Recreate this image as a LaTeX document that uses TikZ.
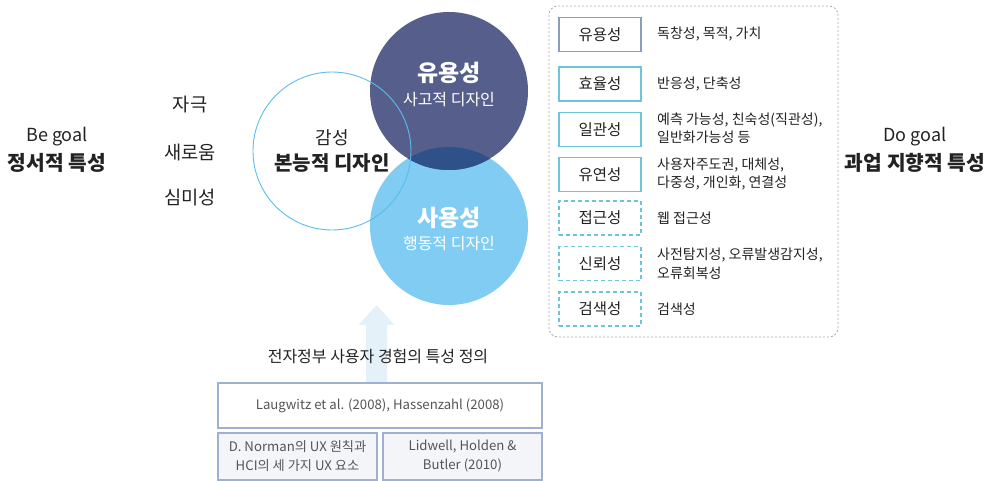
\documentclass[tikz,border=0pt]{standalone}
\usepackage{fontspec}
\setmainfont{Noto Sans CJK KR}
\definecolor{txt}{HTML}{222222}
\definecolor{greytxt}{HTML}{555555}
\definecolor{darkc}{HTML}{565E8B}
\definecolor{lightc}{HTML}{80CCF2}
\definecolor{overc}{HTML}{2E5189}
\definecolor{ringc}{HTML}{5BBDEB}
\definecolor{boxblue}{HTML}{8A9CC2}
\definecolor{boxteal}{HTML}{6EC3DD}
\definecolor{refbox}{HTML}{9FB0D0}
\definecolor{reffill}{HTML}{F3F5F9}
\definecolor{arrowc}{HTML}{E4F1F9}
\definecolor{frame}{HTML}{AAAAAA}
\tikzset{
  fs/.style={font=\fontsize{#1}{20}\selectfont},
  itembox/.style={minimum width=82pt, minimum height=34pt, inner sep=0pt,
    line width=1.3pt, text=txt, font=\fontsize{15.5}{18}\selectfont},
  solidblue/.style={itembox, draw=boxblue},
  solidteal/.style={itembox, draw=boxteal},
  dashteal/.style={itembox, draw=boxteal, dash pattern=on 4pt off 3pt, line width=1.2pt},
  desc/.style={anchor=west, align=left, text=txt, inner sep=0pt,
    font=\fontsize{14}{18.5}\selectfont},
  refnode/.style={draw=refbox, line width=1.4pt, inner sep=0pt, align=center,
    text=greytxt, font=\fontsize{13.2}{19}\selectfont},
  sidetxt/.style={text=txt, font=\fontsize{18.7}{22}\selectfont},
}
\begin{document}
\begin{tikzpicture}[x=1pt,y=-1pt]
\useasboundingbox (0,0) rectangle (992,481);

% circles
\node[circle, fill=lightc, minimum size=158pt, inner sep=0pt] (use) at (449,226) {};
\node[circle, fill=darkc, minimum size=158pt, inner sep=0pt] (useful) at (449,91) {};
\begin{scope}
  \clip (449,91) circle (79);
  \fill[overc] (449,226) circle (79);
\end{scope}
\node[circle, draw=ringc, line width=0.9pt, minimum size=158pt, inner sep=0pt] (emo) at (332,151) {};

\node[text=white, font=\bfseries\fontsize{23}{26}\selectfont] (t1) at (449,73) {유용성};
\node[text=white, fs=16] (t1s) at (449,100) {사고적 디자인};
\node[text=white, font=\bfseries\fontsize{23}{26}\selectfont] (t2) at (449,218) {사용성};
\node[text=white, fs=16] (t2s) at (449,244) {행동적 디자인};
\node[text=txt, fs=18] (t3) at (332,138) {감성};
\node[text=txt, font=\bfseries\fontsize{20}{23}\selectfont] (t3s) at (332,163) {본능적 디자인};

% left side
\node[text=txt, fs=18] (be) at (57,137) {Be goal};
\node[text=txt, font=\bfseries\fontsize{20.3}{23}\selectfont] (bes) at (57,163) {정서적 특성};
\node[sidetxt] (s1) at (190,105) {자극};
\node[sidetxt] (s2) at (190,152) {새로움};
\node[sidetxt] (s3) at (190,198) {심미성};

% right side
\node[text=txt, fs=18] (do) at (915,137) {Do goal};
\node[text=txt, font=\bfseries\fontsize{20.3}{23}\selectfont] (dos) at (915,163) {과업 지향적 특성};

% container
\draw[frame, line width=0.8pt, dash pattern=on 2pt off 2pt, rounded corners=9pt] (549,6) rectangle (838,337);

\node[solidblue] (b1) at (600,34.5) {유용성};
\node[solidteal] (b2) at (600,84) {효율성};
\node[solidteal] (b3) at (600,129.5) {일관성};
\node[solidteal] (b4) at (600,174.5) {유연성};
\node[dashteal] (b5) at (600,218) {접근성};
\node[dashteal] (b6) at (600,263.5) {신뢰성};
\node[dashteal] (b7) at (600,309) {검색성};

\node[desc] (d1) at (657,34) {독창성, 목적, 가치};
\node[desc] (d2) at (657,84) {반응성, 단축성};
\node[desc] (d3) at (657,128) {예측 가능성, 친숙성(직관성),\\일반화가능성 등};
\node[desc] (d4) at (657,174) {사용자주도권, 대체성,\\다중성, 개인화, 연결성};
\node[desc] (d5) at (657,218) {웹 접근성};
\node[desc] (d6) at (657,264) {사전탐지성, 오류발생감지성,\\오류회복성};
\node[desc] (d7) at (657,309) {검색성};

% arrow
\coordinate (abot) at (376.5,384);
\coordinate (atip) at (376.5,305);
\fill[arrowc] ([xshift=-10.5pt]abot) -- ([xshift=-10.5pt]atip |- 0,325) -- ([xshift=-18pt]atip |- 0,325)
  -- (atip) -- ([xshift=18pt]atip |- 0,325) -- ([xshift=10.5pt]atip |- 0,325) -- ([xshift=10.5pt]abot) -- cycle;

\node[text=txt, fs=16] (def) at (378,356) {전자정부 사용자 경험의 특성 정의};

% reference boxes
\node[refnode, fill=white, minimum width=324pt, minimum height=45pt] (r1) at (380,405.5) {Laugwitz et al. (2008), Hassenzahl (2008)};
\node[refnode, fill=reffill, minimum width=159pt, minimum height=47pt] (r2) at (297.5,456.5) {D. Norman의 UX 원칙과\\HCI의 세 가지 UX 요소};
\node[refnode, fill=reffill, minimum width=159pt, minimum height=47pt] (r3) at (462.5,456.5) {Lidwell, Holden \&\\Butler (2010)};
\end{tikzpicture}
\end{document}
